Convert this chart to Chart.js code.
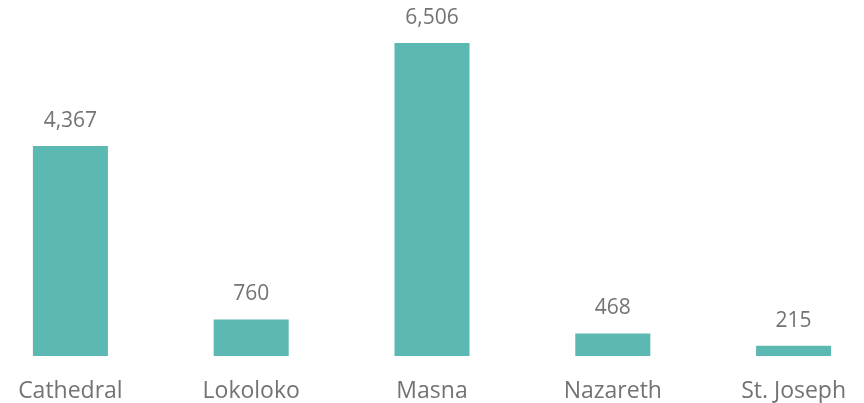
<!DOCTYPE html>
<html>
<head>
<meta charset="utf-8">
<script src="https://cdn.jsdelivr.net/npm/chart.js@4/dist/chart.umd.min.js"></script>
<style>
  html, body { margin: 0; padding: 0; background: #fff; overflow: hidden; }
  #wrap { position: absolute; left: -20px; top: 0; width: 904px; height: 403px; }
</style>
</head>
<body>
<div id="wrap"><canvas id="c"></canvas></div>
<script>
const categories = ['Cathedral', 'Lokoloko', 'Masna', 'Nazareth', 'St. Joseph'];
const values = [4367, 760, 6506, 468, 215];

const textColor = '#737373';

const labelsPlugin = {
  id: 'labels',
  afterDatasetsDraw(chart) {
    const {ctx, scales} = chart;
    const meta = chart.getDatasetMeta(0);
    ctx.save();
    ctx.fillStyle = textColor;
    ctx.textAlign = 'center';
    ctx.textBaseline = 'middle';
    ctx.font = '21px "Open Sans"';
    meta.data.forEach((bar, i) => {
      ctx.fillText(values[i].toLocaleString('en-US'), bar.x, bar.y - 25);
    });
    ctx.font = '23px "Open Sans"';
    categories.forEach((c, i) => {
      ctx.fillText(c, scales.x.getPixelForValue(i), 391);
    });
    ctx.restore();
  }
};

new Chart(document.getElementById('c'), {
  type: 'bar',
  data: {
    labels: categories,
    datasets: [{
      data: values,
      backgroundColor: '#5bb8b2',
      borderWidth: 0,
      barPercentage: 0.415,
      categoryPercentage: 1
    }]
  },
  options: {
    responsive: true,
    maintainAspectRatio: false,
    animation: false,
    layout: { padding: { top: 0, bottom: 47, left: 0, right: 0 } },
    plugins: { legend: { display: false }, tooltip: { enabled: false } },
    scales: {
      x: { display: false },
      y: { display: false, min: 0, max: 7400 }
    }
  },
  plugins: [labelsPlugin]
});
</script>
</body>
</html>
